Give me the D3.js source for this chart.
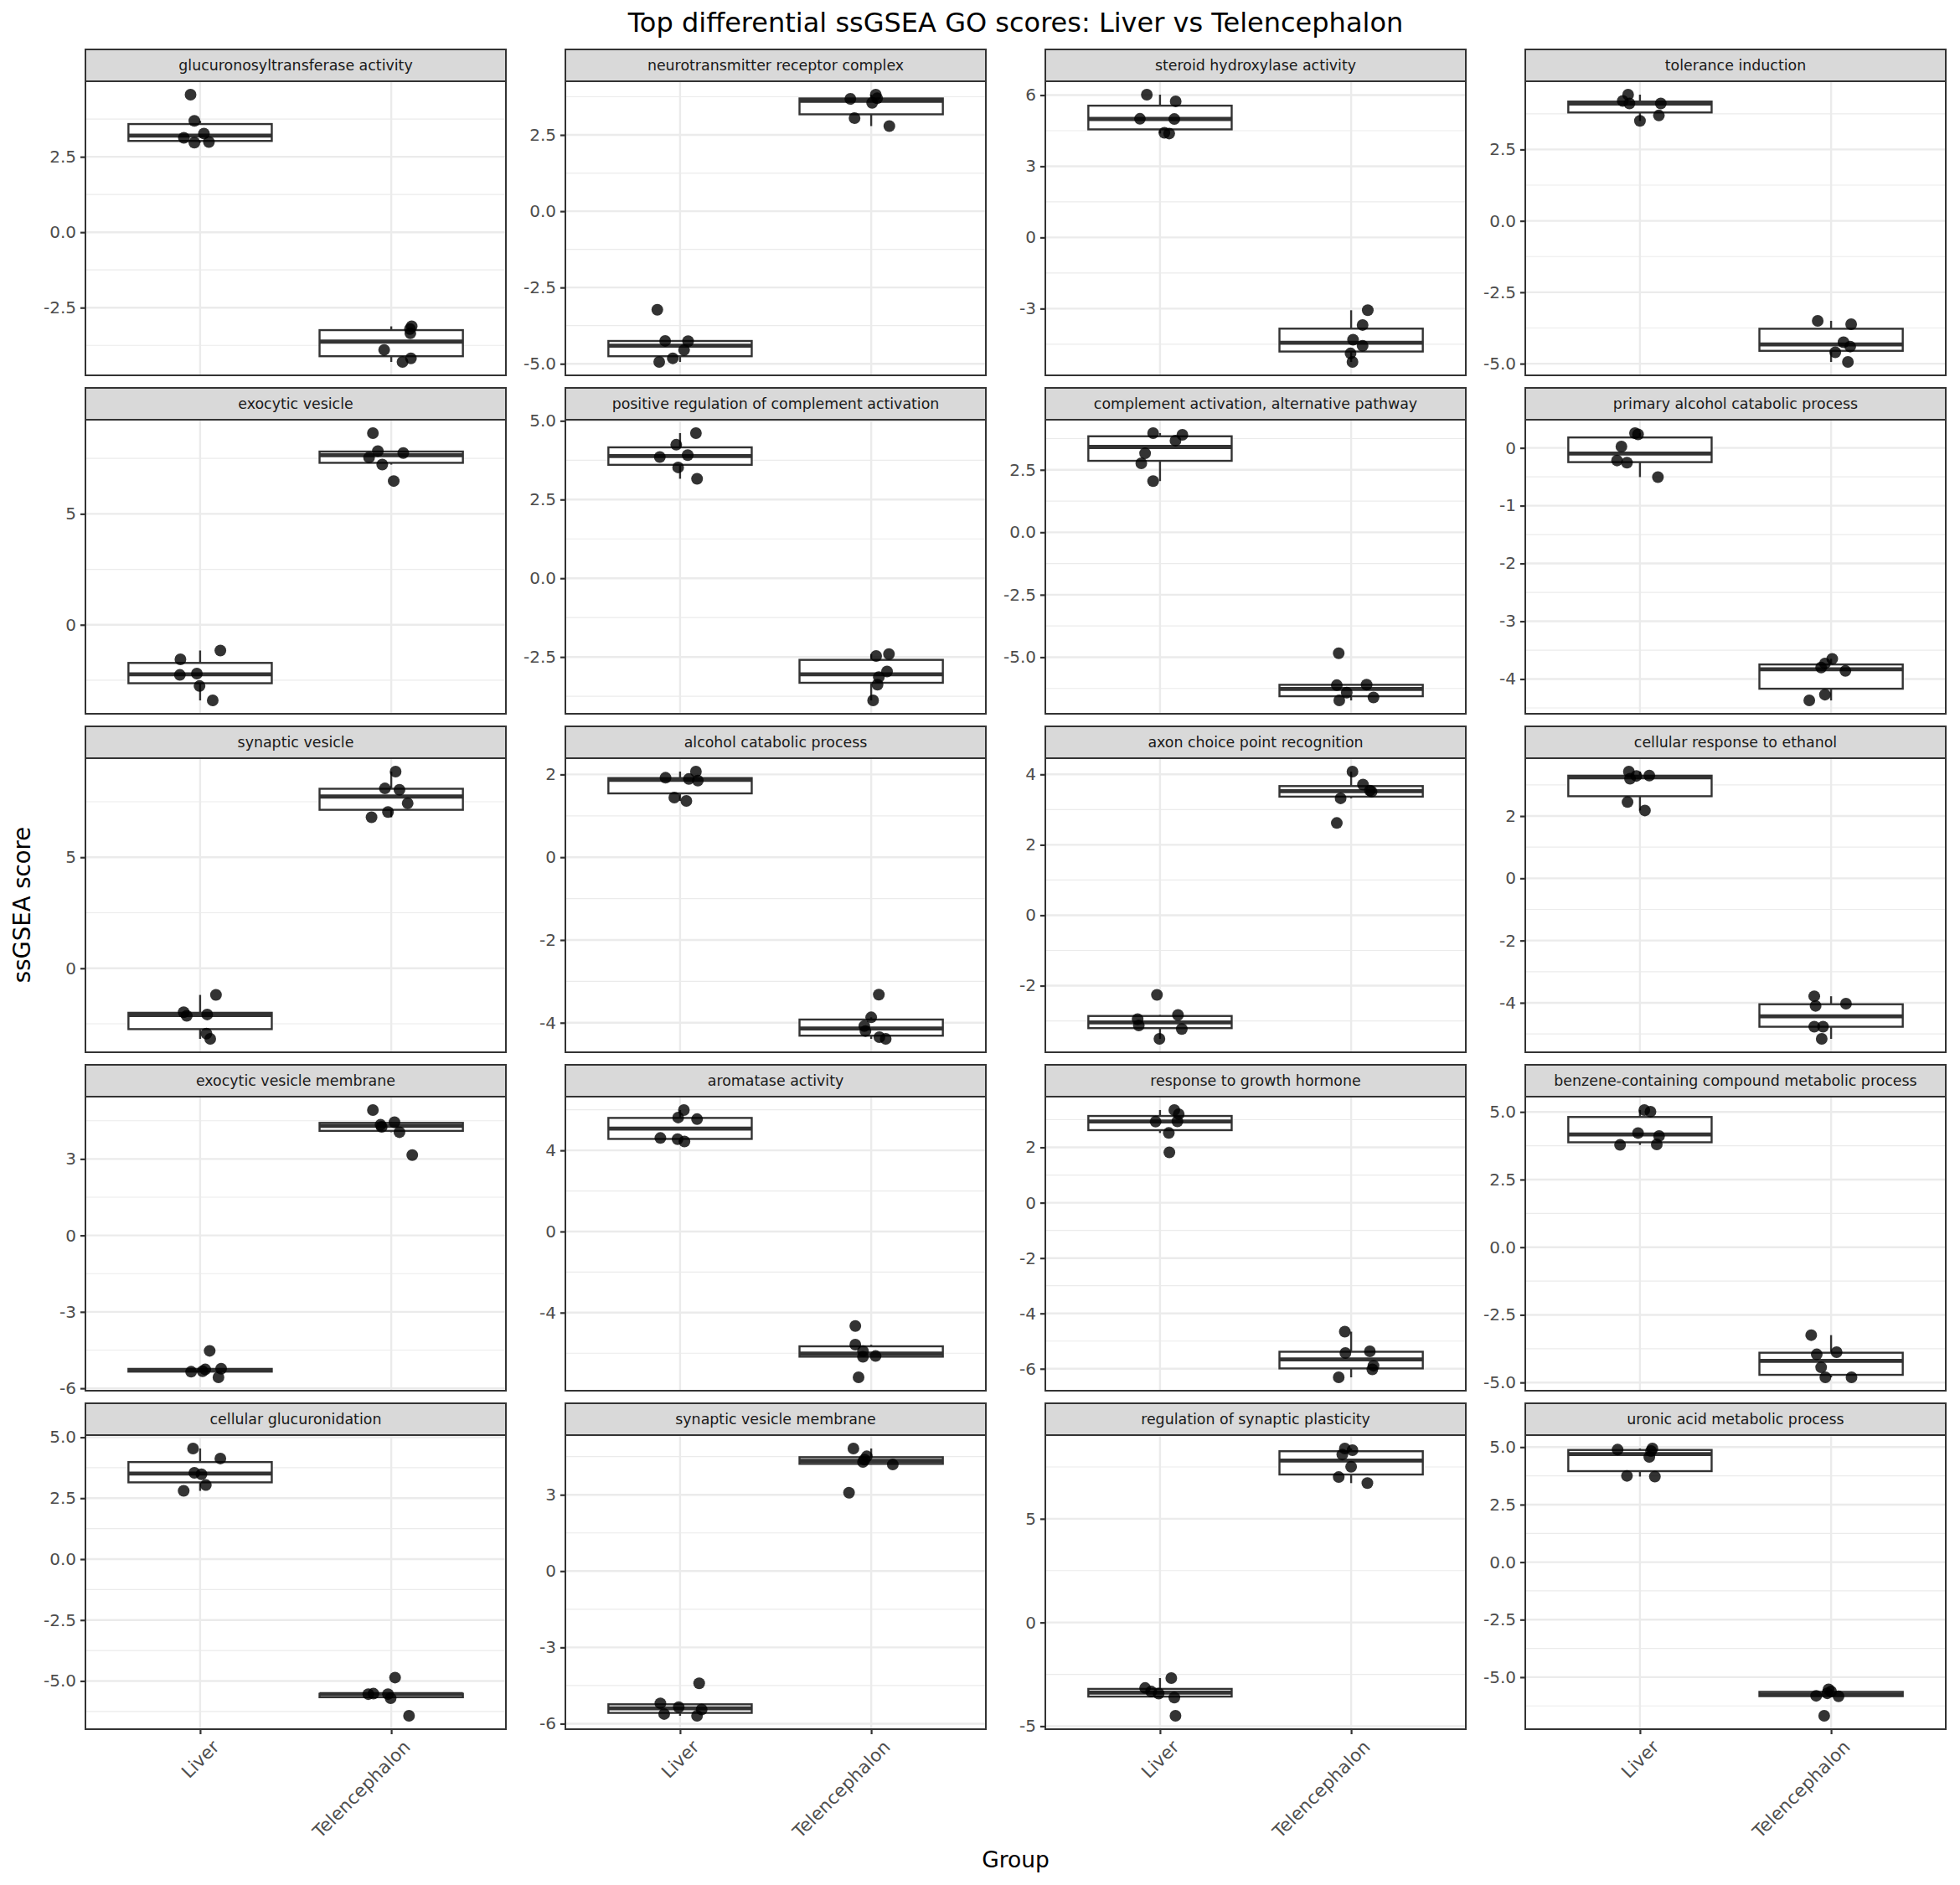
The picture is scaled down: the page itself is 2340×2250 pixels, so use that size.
<!DOCTYPE html>
<html>
<head>
<meta charset="utf-8">
<script src="https://cdn.jsdelivr.net/npm/d3@7/dist/d3.min.js"></script>
<style>
  body { margin: 0; background: #fff; }
  text { font-family: "DejaVu Sans", sans-serif; }
</style>
</head>
<body>
<script>

// DATI

const groups = ["Liver", "Telencephalon"];

const terms = [
  "glucuronosyltransferase activity", "neurotransmitter receptor complex", "steroid hydroxylase activity", "tolerance induction",
  "exocytic vesicle", "positive regulation of complement activation", "complement activation, alternative pathway", "primary alcohol catabolic process",
  "synaptic vesicle", "alcohol catabolic process", "axon choice point recognition", "cellular response to ethanol",
  "exocytic vesicle membrane", "aromatase activity", "response to growth hormone", "benzene-containing compound metabolic process",
  "cellular glucuronidation", "synaptic vesicle membrane", "regulation of synaptic plasticity", "uronic acid metabolic process"
];

const liverScores = [
  [4.56, 3.69, 3.27, 3.13, 2.97, 2.99],
  [-3.23, -4.25, -4.26, -4.55, -4.82, -4.94],
  [6.02, 5.74, 5.00, 4.99, 4.41, 4.38],
  [4.42, 4.20, 4.11, 4.11, 3.69, 3.50],
  [-1.16, -1.56, -2.26, -2.20, -2.76, -3.41],
  [4.61, 4.24, 3.85, 3.91, 3.52, 3.16],
  [3.97, 3.90, 3.67, 3.16, 2.76, 2.05],
  [0.256, 0.233, 0.023, -0.218, -0.256, -0.505],
  [-1.20, -1.98, -2.14, -2.08, -2.94, -3.18],
  [2.07, 1.92, 1.89, 1.85, 1.44, 1.36],
  [-2.26, -2.83, -2.95, -3.13, -3.23, -3.51],
  [3.43, 3.30, 3.29, 3.20, 2.45, 2.18],
  [-4.53, -5.23, -5.26, -5.33, -5.35, -5.57],
  [5.99, 5.62, 5.54, 4.61, 4.55, 4.44],
  [3.35, 3.20, 2.93, 2.94, 2.52, 1.82],
  [5.07, 5.01, 4.22, 4.11, 3.78, 3.80],
  [4.54, 4.13, 3.54, 3.48, 3.04, 2.80],
  [-4.41, -5.20, -5.35, -5.44, -5.62, -5.69],
  [-2.68, -3.16, -3.33, -3.43, -3.62, -4.50],
  [4.89, 4.94, 4.83, 4.57, 3.75, 3.72]
];

// spostamento orizzontale del jitter, in unita' di categoria
const liverJitter = [
  [-0.05, -0.03, 0.02, -0.085, -0.03, 0.046],
  [-0.119, -0.078, 0.042, 0.021, -0.038, -0.109],
  [-0.069, 0.082, -0.105, 0.075, 0.023, 0.048],
  [-0.062, -0.09, -0.055, 0.109, 0.099, 0],
  [0.106, -0.103, -0.106, -0.017, -0.003, 0.066],
  [0.083, -0.02, -0.106, 0.04, -0.01, 0.089],
  [-0.036, 0.117, 0.081, -0.078, -0.098, -0.036],
  [-0.026, -0.01, -0.097, -0.12, -0.068, 0.094],
  [0.083, -0.086, -0.07, 0.037, 0.033, 0.053],
  [0.083, -0.076, 0.046, 0.093, -0.03, 0.033],
  [-0.016, 0.094, -0.117, -0.111, 0.114, -0.003],
  [-0.058, 0.049, -0.019, -0.052, -0.065, 0.026],
  [0.05, 0.11, 0.027, 0.013, -0.047, 0.096],
  [0.02, -0.01, 0.089, -0.103, -0.013, 0.023],
  [0.075, 0.098, -0.023, 0.091, 0.046, 0.049],
  [0.023, 0.055, -0.01, 0.1, -0.104, 0.088],
  [-0.037, 0.106, -0.03, 0.007, 0.03, -0.086],
  [0.1, -0.103, -0.007, 0.113, -0.083, 0.089],
  [0.059, -0.078, -0.046, -0.007, 0.075, 0.081],
  [-0.117, 0.065, 0.058, 0.049, -0.068, 0.078]
];

const telScores = [
  [-3.12, -3.21, -3.35, -3.90, -4.18, -4.30],
  [3.68, 3.82, 3.70, 3.55, 3.05, 2.79],
  [-3.07, -3.69, -4.31, -4.57, -4.89, -5.25],
  [-3.50, -3.62, -4.25, -4.40, -4.60, -4.94],
  [8.64, 7.83, 7.74, 7.54, 7.22, 6.48],
  [-2.41, -2.47, -2.96, -3.14, -3.38, -3.88],
  [-4.84, -6.12, -6.10, -6.42, -6.61, -6.73],
  [-3.65, -3.73, -3.80, -3.86, -4.27, -4.37],
  [8.86, 8.10, 8.04, 7.43, 7.04, 6.80],
  [-3.32, -3.87, -4.08, -4.20, -4.35, -4.39],
  [4.08, 3.71, 3.54, 3.51, 3.32, 2.62],
  [-3.79, -4.03, -4.10, -4.77, -4.77, -5.16],
  [4.92, 4.44, 4.34, 4.26, 4.05, 3.15],
  [-4.66, -5.58, -5.90, -6.18, -6.14, -7.19],
  [-4.66, -5.43, -5.37, -5.89, -6.02, -6.31],
  [-3.25, -3.96, -3.88, -4.44, -4.81, -4.81],
  [-4.86, -5.54, -5.52, -5.54, -5.71, -6.43],
  [4.82, 4.51, 4.29, 4.38, 4.19, 3.08],
  [8.39, 8.31, 8.10, 7.51, 7.01, 6.72],
  [-5.53, -5.62, -5.81, -5.70, -5.83, -6.68]
];

const telJitter = [
  [0.107, 0.098, 0.10, -0.037, 0.103, 0.059],
  [-0.109, 0.024, 0.031, 0.005, -0.087, 0.095],
  [0.087, 0.06, 0.01, 0.06, -0.003, 0.007],
  [-0.07, 0.105, 0.065, 0.10, 0.022, 0.088],
  [-0.096, -0.07, 0.063, -0.116, -0.047, 0.013],
  [0.093, 0.026, 0.083, 0.04, 0.033, 0.01],
  [-0.065, -0.075, 0.081, -0.023, 0.117, -0.062],
  [0.006, -0.032, -0.052, 0.075, -0.032, -0.114],
  [0.023, -0.033, 0.043, 0.086, -0.017, -0.103],
  [0.04, 0, -0.036, -0.03, 0.043, 0.076],
  [0.007, 0.062, 0.098, 0.107, -0.055, -0.075],
  [-0.088, 0.078, -0.081, -0.088, -0.042, -0.049],
  [-0.096, 0.017, -0.056, -0.05, 0.043, 0.11],
  [-0.083, -0.083, -0.043, -0.043, 0.023, -0.066],
  [-0.033, -0.03, 0.098, 0.117, 0.111, -0.065],
  [-0.104, -0.075, 0.029, -0.052, -0.03, 0.107],
  [0.02, -0.12, -0.093, -0.017, -0.003, 0.093],
  [-0.093, -0.023, -0.043, -0.035, 0.113, -0.116],
  [-0.033, 0.007, -0.046, 0, -0.065, 0.085],
  [-0.013, 0.0, -0.078, -0.02, 0.039, -0.036]
];

const yTicks = [
  [-2.5, 0, 2.5], [-5, -2.5, 0, 2.5], [-3, 0, 3, 6], [-5, -2.5, 0, 2.5],
  [0, 5], [-2.5, 0, 2.5, 5], [-5, -2.5, 0, 2.5], [-4, -3, -2, -1, 0],
  [0, 5], [-4, -2, 0, 2], [-2, 0, 2, 4], [-4, -2, 0, 2],
  [-6, -3, 0, 3], [-4, 0, 4], [-6, -4, -2, 0, 2], [-5, -2.5, 0, 2.5, 5],
  [-5, -2.5, 0, 2.5, 5], [-6, -3, 0, 3], [-5, 0, 5], [-5, -2.5, 0, 2.5, 5]
];

const title = "Top differential ssGSEA GO scores: Liver vs Telencephalon";
const xTitle = "Group";
const yTitle = "ssGSEA score";


// IMPOSTAZIONI

const width = 2340, height = 2250;
const nCols = 4, nRows = 5;
const left0 = 102, top0 = 59;
const panelW = 502, panelH = 351, stripH = 38;
const colStep = 573, rowStep = 404;

const svg = d3.select("body")
    .append("svg")
    .attr("width", width)
    .attr("height", height);

svg.append("rect")
    .attr("width", width)
    .attr("height", height)
    .attr("fill", "white");

const x = d3.scalePoint()
    .domain(groups)
    .range([0, panelW])
    .padding(0.6);
const step = x.step();

function boxStats(values) {
    const v = values.slice().sort(d3.ascending);
    const q1 = d3.quantile(v, 0.25), med = d3.quantile(v, 0.5), q3 = d3.quantile(v, 0.75);
    const iqr = q3 - q1;
    const inside = v.filter(d => d >= q1 - 1.5 * iqr && d <= q3 + 1.5 * iqr);
    return { q1: q1, med: med, q3: q3, lo: d3.min(inside), hi: d3.max(inside) };
}


// DISEGNA I PANNELLI

terms.forEach(function(term, i) {
    const col = i % nCols, row = Math.floor(i / nCols);
    const px = left0 + col * colStep;
    const py = top0 + row * rowStep;

    const series = [
        { group: groups[0], values: liverScores[i], jitter: liverJitter[i] },
        { group: groups[1], values: telScores[i], jitter: telJitter[i] }
    ];

    const all = liverScores[i].concat(telScores[i]);
    const ext = d3.extent(all);
    const pad = (ext[1] - ext[0]) * 0.05;
    const y = d3.scaleLinear()
        .domain([ext[0] - pad, ext[1] + pad])
        .range([panelH, 0]);

    const ticks = yTicks[i];
    const tStep = ticks[1] - ticks[0];
    const minor = [];
    for (let k = -1; k < ticks.length; k++) {
        const m = (k < 0 ? ticks[0] - tStep / 2 : ticks[k] + tStep / 2);
        if (m >= y.domain()[0] && m <= y.domain()[1]) minor.push(m);
    }
    const decimals = ticks.some(t => !Number.isInteger(t)) ? 1 : 0;
    const fmt = d => d.toFixed(decimals);

    // strip
    const strip = svg.append("g").attr("transform", "translate(" + px + "," + py + ")");
    strip.append("rect")
        .attr("width", panelW)
        .attr("height", stripH)
        .attr("fill", "#D9D9D9")
        .attr("stroke", "#333333")
        .attr("stroke-width", 2);
    strip.append("text")
        .attr("x", panelW / 2)
        .attr("y", stripH / 2)
        .attr("dy", "0.36em")
        .attr("text-anchor", "middle")
        .attr("font-size", "17.4px")
        .attr("fill", "#1A1A1A")
        .text(term);

    const g = svg.append("g")
        .attr("transform", "translate(" + px + "," + (py + stripH) + ")");

    // griglia
    g.selectAll(".minor")
        .data(minor)
        .enter().append("line")
        .attr("x1", 0).attr("x2", panelW)
        .attr("y1", d => y(d)).attr("y2", d => y(d))
        .attr("stroke", "#EBEBEB")
        .attr("stroke-width", 1.2);

    g.selectAll(".major")
        .data(ticks)
        .enter().append("line")
        .attr("x1", 0).attr("x2", panelW)
        .attr("y1", d => y(d)).attr("y2", d => y(d))
        .attr("stroke", "#EBEBEB")
        .attr("stroke-width", 2.4);

    g.selectAll(".vgrid")
        .data(groups)
        .enter().append("line")
        .attr("x1", d => x(d)).attr("x2", d => x(d))
        .attr("y1", 0).attr("y2", panelH)
        .attr("stroke", "#EBEBEB")
        .attr("stroke-width", 2.4);

    // boxplot
    series.forEach(function(s) {
        const st = boxStats(s.values);
        const cx = x(s.group);
        const bw = step * 0.75;

        g.append("line")
            .attr("x1", cx).attr("x2", cx)
            .attr("y1", y(st.q3)).attr("y2", y(st.hi))
            .attr("stroke", "#333333").attr("stroke-width", 2.4);
        g.append("line")
            .attr("x1", cx).attr("x2", cx)
            .attr("y1", y(st.q1)).attr("y2", y(st.lo))
            .attr("stroke", "#333333").attr("stroke-width", 2.4);

        g.append("rect")
            .attr("x", cx - bw / 2)
            .attr("y", y(st.q3))
            .attr("width", bw)
            .attr("height", y(st.q1) - y(st.q3))
            .attr("fill", "white")
            .attr("stroke", "#333333")
            .attr("stroke-width", 2.4);

        g.append("line")
            .attr("x1", cx - bw / 2).attr("x2", cx + bw / 2)
            .attr("y1", y(st.med)).attr("y2", y(st.med))
            .attr("stroke", "#333333").attr("stroke-width", 4.8);
    });

    // punti
    series.forEach(function(s) {
        g.selectAll(null)
            .data(s.values.map((v, k) => ({ v: v, j: s.jitter[k] })))
            .enter().append("circle")
            .attr("cx", d => x(s.group) + d.j * step)
            .attr("cy", d => y(d.v))
            .attr("r", 7)
            .attr("fill", "black")
            .attr("fill-opacity", 0.8);
    });

    // bordo pannello
    g.append("rect")
        .attr("width", panelW)
        .attr("height", panelH)
        .attr("fill", "none")
        .attr("stroke", "#333333")
        .attr("stroke-width", 2);

    // asse y
    const ay = g.append("g")
        .call(d3.axisLeft(y).tickValues(ticks).tickFormat(fmt).tickSize(6).tickPadding(5));
    ay.select(".domain").remove();
    ay.selectAll(".tick line").attr("stroke", "#333333").attr("stroke-width", 2.2);
    ay.selectAll(".tick text")
        .attr("fill", "#4D4D4D")
        .attr("font-size", "20px")
        .attr("font-family", "DejaVu Sans");

    // asse x solo in basso
    if (row === nRows - 1) {
        const ax = g.append("g")
            .attr("transform", "translate(0," + panelH + ")")
            .call(d3.axisBottom(x).tickSize(6).tickPadding(5));
        ax.select(".domain").remove();
        ax.selectAll(".tick line").attr("stroke", "#333333").attr("stroke-width", 2.2);
        ax.selectAll(".tick text")
            .attr("fill", "#4D4D4D")
            .attr("font-size", "21.5px")
            .attr("font-family", "DejaVu Sans")
            .attr("text-anchor", "end")
            .attr("dy", "0.71em")
            .attr("transform", "translate(5,4) rotate(-45)");
    }
});


// TITOLI

const panelsLeft = left0, panelsRight = left0 + (nCols - 1) * colStep + panelW;
const panelsTop = top0, panelsBottom = top0 + (nRows - 1) * rowStep + stripH + panelH;

svg.append("text")
    .attr("x", (panelsLeft + panelsRight) / 2)
    .attr("y", 38)
    .attr("text-anchor", "middle")
    .attr("font-size", "32px")
    .attr("fill", "black")
    .text(title);

svg.append("text")
    .attr("x", (panelsLeft + panelsRight) / 2)
    .attr("y", 2229)
    .attr("text-anchor", "middle")
    .attr("font-size", "26.5px")
    .attr("fill", "black")
    .text(xTitle);

svg.append("text")
    .attr("transform", "translate(36,1080) rotate(-90)")
    .attr("text-anchor", "middle")
    .attr("font-size", "27.5px")
    .attr("fill", "black")
    .text(yTitle);

</script>
</body>
</html>
